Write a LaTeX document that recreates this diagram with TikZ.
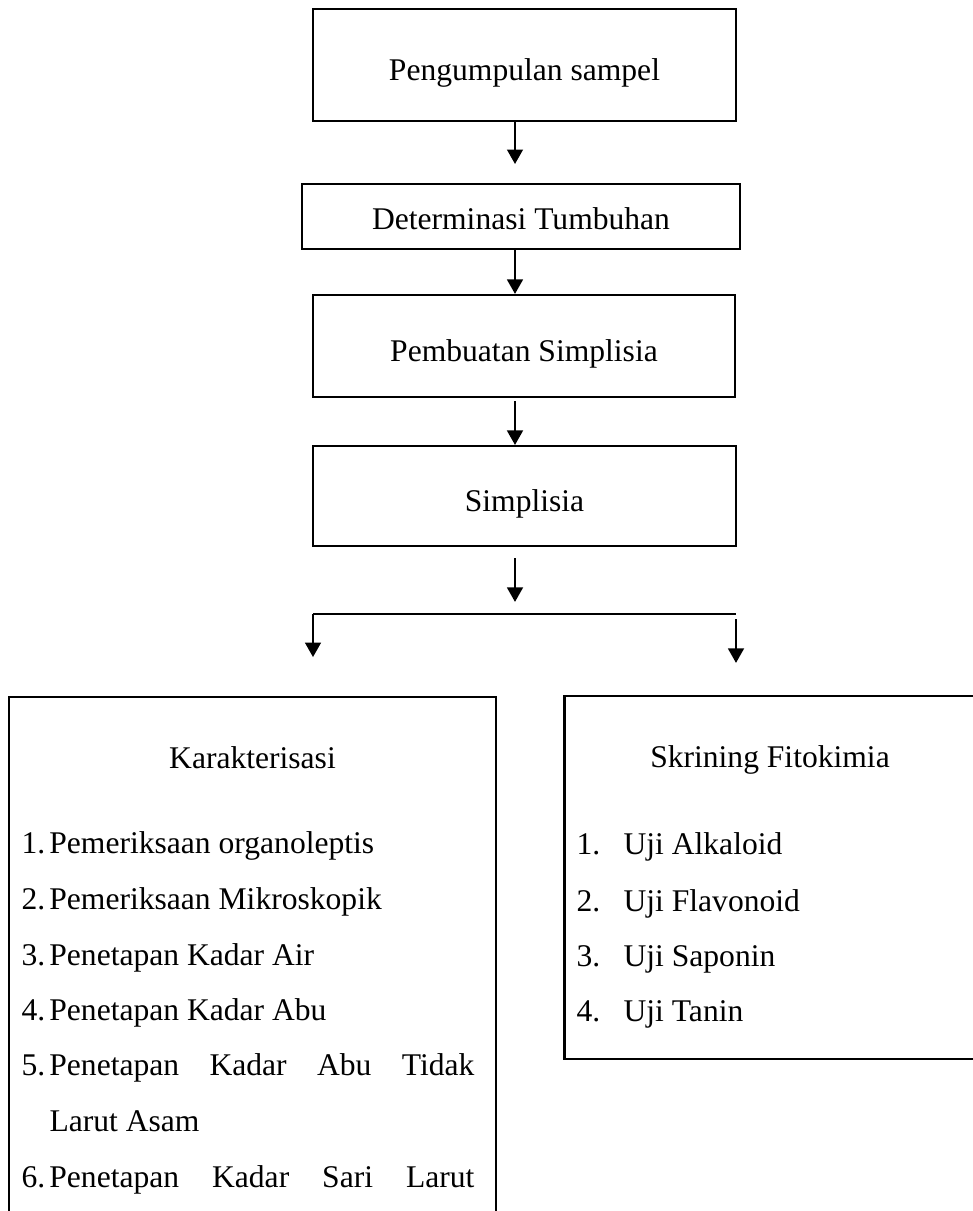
\documentclass[tikz,border=0pt]{standalone}
\usepackage{fontspec}
\setmainfont{Liberation Serif}
\usetikzlibrary{arrows.meta}

\begin{document}
\begin{tikzpicture}[x=0.38pt, y=-0.38pt, font=\fontsize{12}{14}\selectfont]
    \tikzstyle{flowbox}=[rectangle, draw, line width=0.8pt, inner sep=0pt, text height=1.5em, text depth=0.3em]
    \tikzstyle{listbox}=[rectangle, draw, line width=0.8pt]
    \tikzstyle{entry}=[anchor=base west, inner sep=0pt]
    \tikzstyle{flowarrow}=[->, line width=0.8pt, >={Triangle[width=6pt,length=5.5pt]}]

    \useasboundingbox (0,0) rectangle (973,1211);

    % alur utama
    \node[flowbox, minimum width=160.7pt, minimum height=42.6pt] (sampel) at (524.5,65) {Pengumpulan sampel};
    \node[flowbox, text height=1.3em, minimum width=166.4pt, minimum height=24.7pt] (determinasi) at (521,216.5) {Determinasi Tumbuhan};
    \node[flowbox, minimum width=160.4pt, minimum height=38.8pt] (pembuatan) at (524,346) {Pembuatan Simplisia};
    \node[flowbox, minimum width=160.7pt, minimum height=38pt] (simplisia) at (524.5,496) {Simplisia};

    \coordinate (spine) at (515,0);
    \coordinate (cabangL) at (313,614);
    \coordinate (cabangR) at (736,614);

    % kotak bawah
    \node[listbox, minimum width=185.1pt, minimum height=213.9pt] (karakter) at (252.5,978.5) {};
    \node[listbox, minimum width=156.2pt, minimum height=137.9pt] (skrining) at (770,877.5) {};

    \node[anchor=base] (karTitle) at (252.5,768) {Karakterisasi};
    \node[anchor=base] (skrTitle) at (770,767) {Skrining Fitokimia};

    \foreach \n/\txt/\y in {1/Pemeriksaan organoleptis/853, 2/Pemeriksaan Mikroskopik/909, 3/Penetapan Kadar Air/965, 4/Penetapan Kadar Abu/1020} {
        \node[entry] (kar\n) at (21,\y) {\makebox[10.6pt][l]{\n.}\txt};
    }
    \node[entry] (kar5) at (21,1075) {\makebox[10.6pt][l]{5.}\makebox[161.5pt][s]{Penetapan Kadar Abu Tidak}};
    \node[entry] (kar5b) at (49,1131) {Larut Asam};
    \node[entry] (kar6) at (21,1187) {\makebox[10.6pt][l]{6.}\makebox[161.5pt][s]{Penetapan Kadar Sari Larut}};

    \foreach \n/\txt/\y in {1/Uji Alkaloid/854, 2/Uji Flavonoid/911, 3/Uji Saponin/966, 4/Uji Tanin/1021} {
        \node[entry] (skr\n) at (576,\y) {\makebox[17.9pt][l]{\n.}\txt};
    }

    % panah
    \draw[flowarrow, shorten >=7.2pt] (sampel.south -| spine) -- (determinasi.north -| spine);
    \draw[flowarrow] (determinasi.south -| spine) -- (pembuatan.north -| spine);
    \draw[flowarrow, shorten <=1.1pt] (pembuatan.south -| spine) -- (simplisia.north -| spine);
    \draw[flowarrow, shorten <=4.2pt, shorten >=4.6pt] (simplisia.south -| spine) -- (spine |- cabangL);
    \draw[line width=0.8pt] (cabangL) -- (cabangR);
    \draw[flowarrow, shorten >=14.8pt] (cabangL) -- (karakter.north -| cabangL);
    \draw[flowarrow, shorten <=1.9pt, shorten >=12.2pt] (cabangR) -- (skrining.north -| cabangR);
\end{tikzpicture}
\end{document}
